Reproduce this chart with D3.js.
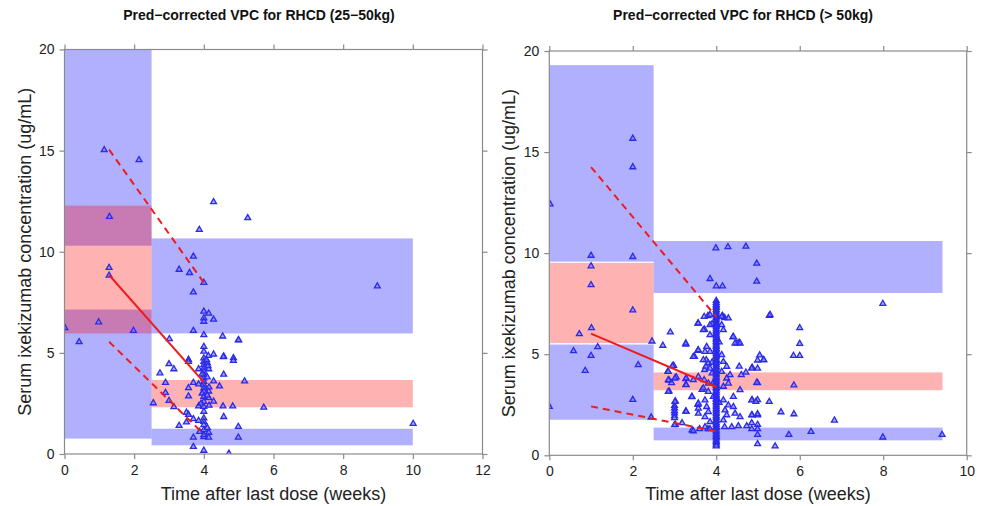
<!DOCTYPE html>
<html>
<head>
<meta charset="utf-8">
<script src="https://cdnjs.cloudflare.com/ajax/libs/d3/7.8.5/d3.min.js"></script>
<style>
body { margin: 0; background: #fff; }
svg text { font-family: "Liberation Sans", Arial, sans-serif; }
</style>
</head>
<body>
<svg id="chart" width="982" height="506"></svg>
<script>
// ---------- left panel: 25-50kg ----------
var titleLeft = "Pred\u2212corrected VPC for RHCD (25\u221250kg)";
var binEdgesLeft = [0, 2.5, 10];
var loCILeft = [[0.76, 7.14], [0.43, 1.25]];    // CI of 5th percentile
var medCILeft = [[5.96, 12.28], [2.31, 3.66]];  // CI of median
var hiCILeft = [[10.3, 20], [5.96, 10.66]];     // CI of 95th percentile
var binMidLeft = [1.28, 4.0];
var obsMedLeft = [8.85, 3.55];
var obsP95Left = [15.05, 8.47];
var obsP5Left = [5.55, 0.98];
var obsLeft = [
  [1.14,15.03],[2.14,14.54],[1.29,11.73],[4.28,12.46],[5.26,11.67],[3.87,11.09],
  [3.70,9.77],[3.29,9.12],[3.59,8.96],[4.0,8.47],[1.28,9.21],[1.28,8.83],[3.70,8.0],[8.98,8.30],
  [0.01,6.24],[0.98,6.52],[1.98,6.10],[0.42,5.54],[3.70,6.10],
  [4.0,7.05],[4.0,6.72],[4.0,6.55],[4.14,6.95],[4.28,6.65],[4.0,5.89],[4.54,5.82],[3.01,5.69],[4.99,5.63],
  [4.0,5.31],[4.0,5.07],[4.13,4.86],[4.28,4.93],[4.57,4.83],[4.85,4.75],[4.85,4.62],[3.56,4.67],[3.56,4.56],
  [3.0,4.45],[3.14,4.2],[2.74,4.0],[2.90,3.53],[4.57,3.93],[4.14,4.2],[3.85,4.2],[5.17,3.6],[4.28,3.6],[4.45,3.35],
  [3.56,3.27],[3.56,2.86],[2.90,3.03],[3.70,3.53],[3.85,3.45],[4.14,3.1],[4.14,2.77],[4.28,2.6],[2.55,2.52],
  [3.0,2.64],[3.14,2.33],[3.85,2.36],[4.55,2.36],[4.83,2.36],[5.72,2.3],[3.50,2.05],[3.56,1.95],[4.57,1.84],
  [3.5,1.57],[3.7,1.73],[3.85,1.65],[3.29,1.40],[4.99,1.35],[4.14,1.06],[4.0,0.85],[3.7,0.82],[4.14,0.82],
  [4.99,0.82],[3.7,0.36],[4.0,0.17],[4.72,0.03],[10.01,1.5],
  [4.0,4.74],[4.0,4.57],[4.0,4.41],[4.0,4.24],[4.0,4.08],[4.0,3.91],[4.0,3.75],[4.0,3.58],[4.0,3.42],
  [4.0,3.25],[4.0,3.09],[4.0,2.84],[4.0,2.59],[4.0,2.34],[4.0,2.10],[4.0,1.77],[4.0,1.60],[4.0,1.44],
  [4.0,1.19],[4.0,0.94],
  [4.1,4.5],[4.12,4.35],[4.1,3.8],[4.15,3.3],[4.1,2.9],[4.08,4.65],[3.95,3.0],[3.95,3.95],[3.92,2.5],
  [4.1,1.3],[4.15,2.4],[3.88,1.1],[5.0,5.64],[4.56,4.8]
];

// ---------- right panel: > 50kg ----------
var titleRight = "Pred\u2212corrected VPC for RHCD (> 50kg)";
var binEdgesRight = [0, 2.5, 9.42];
var loCIRight = [[1.76, 5.48], [0.74, 1.37]];
var medCIRight = [[5.55, 9.52], [3.22, 4.1]];
var hiCIRight = [[9.58, 19.3], [8.03, 10.6]];
var binMidRight = [1.0, 4.0];
var obsMedRight = [6.02, 3.38];
var obsP95Right = [14.26, 6.85];
var obsP5Right = [2.42, 1.19];
var obsRight = [
  [2.0,15.67],[2.0,14.26],[0.02,12.42],[3.99,10.25],[4.28,10.31],[4.71,10.33],
  [1.0,9.88],[2.0,9.82],[1.0,9.36],[4.97,9.49],[1.0,8.43],[4.97,8.6],[3.85,8.73],[4.0,8.37],[4.15,8.37],
  [7.99,7.5],[2.0,7.18],[5.27,6.91],[1.01,6.30],[0.72,6.0],[2.46,5.64],[2.72,5.43],[1.16,5.36],[0.58,5.16],
  [1.0,4.93],[0.86,4.19],[2.13,4.47],[2.0,2.75],[0.0,2.41],[2.44,1.88],[2.9,6.09],[6.0,6.30],[6.0,5.52],
  [5.85,4.93],[6.0,4.93],[5.86,3.47],[5.86,2.04],[5.55,2.14],[6.83,1.73],[6.27,1.17],[5.74,1.02],[7.99,0.89],
  [9.41,1.02],[4.99,0.56],[5.41,0.45],[4.99,1.02],[4.99,1.52],[4.99,1.98],[4.99,2.74],[4.99,3.58],[4.86,2.74],
  [4.86,1.98],[4.85,1.6],[4.99,4.7],[5.13,4.72],[5.04,4.95],[4.86,4.35],[4.71,4.1],[4.55,4.4],[4.55,5.58],
  [4.4,5.85],[4.5,5.55],[4.2,6.8],[4.15,6.9],[3.56,6.52],[3.72,6.22],[3.8,6.9],[3.9,6.5],[3.48,4.88],
  [3.56,5.18],[3.27,5.48],[2.98,4.44],[2.84,4.15],[2.87,3.71],[2.93,3.58],[2.87,3.17],[3.04,3.87],[3.27,3.78],
  [3.27,3.49],[3.02,2.68],[3.02,1.52],[3.18,1.6],[3.27,2.18],[3.41,2.89],[3.42,1.25],[3.56,2.51],[3.6,1.3],
  [3.8,1.3],[3.72,4.23],[3.76,4.72],[3.9,4.06],[3.66,3.25],[5.27,2.65],[5.14,4.72],[5.29,6.95],
  [3.57,6.53],[3.71,6.86],[3.85,6.95],[3.69,6.2],[3.85,6.45],[3.85,5.95],[4.13,6.86],[4.13,6.45],[4.29,6.78],
  [4.17,6.2],[4.41,5.87],[4.45,5.54],[4.57,5.54],[3.57,5.21],[3.45,4.88],[3.27,5.54],[3.77,5.37],[3.73,5.13],
  [3.85,5.13],[3.69,4.72],[3.81,4.55],[3.75,4.4],[3.85,4.3],[3.9,4.6],
  [4.13,4.97],[4.17,4.63],[4.25,4.39],[4.13,4.14],[4.33,3.98],[3.57,3.89],[3.45,3.73],[3.71,3.73],[3.81,3.56],
  [3.69,3.32],[3.81,3.15],[4.25,3.81],[4.29,3.56],[4.17,3.40],[4.57,3.23],[3.42,2.9],[3.57,2.57],[3.57,2.32],
  [3.57,2.07],[3.73,2.73],[3.77,2.4],[3.81,2.15],[3.73,1.9],[3.85,1.65],[4.17,2.73],[4.29,2.48],[4.21,2.23],
  [4.25,1.99],[4.17,1.74],[4.41,2.9],[4.41,2.4],[4.45,2.07],[4.57,1.9],[3.73,1.4],[3.85,1.3],[3.45,1.2],
  [4.2,1.4],[4.37,1.4],[4.53,1.45],[4.73,1.45],[4.85,4.3],[4.99,4.3],[4.97,3.6],[4.85,2.73],[4.95,2.65],
  [4.85,2.0],[4.99,2.05],[4.85,1.3],[4.99,1.3],[4.6,3.98],[3.93,3.6],[3.93,2.9],[4.07,2.6],[4.07,5.6],
  [3.0,2.45],[3.0,2.33],[3.0,2.2],[3.0,2.08],[3.0,1.95],[3.0,1.85],[3.01,2.65],[2.85,3.15],[2.85,3.73],
  [3.01,3.81],[3.28,3.81],[3.28,3.48],[2.85,4.14],[2.95,4.42],[3.28,2.16],[3.0,1.5],
  [4.0,7.65],[4.0,7.55],[4.0,7.45],[4.0,7.38],[4.0,7.3],[4.0,7.2],[4.0,7.12],[4.0,7.02],[4.0,6.95],
  [4.0,6.85],[4.0,6.78],[4.0,6.7],[4.0,6.6],[4.0,6.52],[4.0,6.42],[4.0,6.35],[4.0,6.25],[4.0,6.15],
  [4.0,6.08],[4.0,5.98],[4.0,5.9],[4.0,5.8],[4.0,5.72],[4.0,5.62],[4.0,5.55],[4.0,5.45],[4.0,5.38],
  [4.0,5.28],[4.0,5.2],[4.0,5.1],[4.0,5.02],[4.0,4.92],[4.0,4.85],[4.0,4.75],[4.0,4.68],[4.0,4.58],
  [4.0,4.5],[4.0,4.4],[4.0,4.32],[4.0,4.22],[4.0,4.15],[4.0,4.05],[4.0,3.98],[4.0,3.88],[4.0,3.8],
  [4.0,3.7],[4.0,3.62],[4.0,3.52],[4.0,3.45],[4.0,3.35],[4.0,3.28],[4.0,3.18],[4.0,3.1],[4.0,3.0],
  [4.0,2.92],[4.0,2.82],[4.0,2.75],[4.0,2.65],[4.0,2.58],[4.0,2.48],[4.0,2.4],[4.0,2.3],[4.0,2.22],
  [4.0,2.12],[4.0,2.05],[4.0,1.95],[4.0,1.88],[4.0,1.78],[4.0,1.7],[4.0,1.6],[4.0,1.52],[4.0,1.42],
  [4.0,1.35],[4.0,1.25],[4.0,1.18],[4.0,1.08],[4.0,1.0],[4.0,0.92],[4.0,0.85],[4.0,0.75],[4.0,0.68],
  [4.0,0.6],[4.0,0.52],[4.0,0.45]
];

var yTicks = [0, 5, 10, 15, 20];
var xTicksLeft = [0, 2, 4, 6, 8, 10, 12];
var xTicksRight = [0, 2, 4, 6, 8, 10];

var svg = d3.select("#chart");

function drawPanel(p) {
  var x = d3.scaleLinear().domain(p.xDomain).range([p.left, p.right]);
  var y = d3.scaleLinear().domain([0, 20]).range([p.bottom, p.top]);
  var g = svg.append("g");

  var clipId = "clip" + p.id;
  svg.append("clipPath").attr("id", clipId)
    .append("rect").attr("x", p.left).attr("y", p.top)
    .attr("width", p.right - p.left).attr("height", p.bottom - p.top);

  var plot = g.append("g").attr("clip-path", "url(#" + clipId + ")");

  // blue bands first (5th and 95th percentile CI), then pink median CI
  function bands(ci, color, op) {
    plot.selectAll(null).data(ci).enter().append("rect")
      .attr("x", function(d, i) { return x(p.edges[i]); })
      .attr("width", function(d, i) { return x(p.edges[i + 1]) - x(p.edges[i]); })
      .attr("y", function(d) { return y(d[1]); })
      .attr("height", function(d) { return y(d[0]) - y(d[1]); })
      .attr("fill", color).attr("fill-opacity", op);
  }
  bands(p.hi, "#0000ff", 0.31);
  bands(p.lo, "#0000ff", 0.31);
  bands(p.med, "#ff0000", 0.30);

  // observations
  var tri = d3.symbol().type(d3.symbolTriangle).size(15);
  plot.selectAll(null).data(p.obs).enter().append("path")
    .attr("d", tri)
    .attr("transform", function(d) { return "translate(" + x(d[0]) + "," + y(d[1]) + ")"; })
    .attr("fill", "#7c7cff").attr("fill-opacity", 0.65)
    .attr("stroke", "#2a2ae8").attr("stroke-width", 1.3);

  // observed percentiles
  function obsLine(vals, dash) {
    var line = d3.line().x(function(d, i) { return x(p.mid[i]); }).y(function(d) { return y(d); });
    plot.append("path").datum(vals)
      .attr("d", line)
      .attr("fill", "none").attr("stroke", "#ee1c1c").attr("stroke-width", 2)
      .attr("stroke-dasharray", dash ? "7,5" : null);
  }
  obsLine(p.p50, false);
  obsLine(p.p95, true);
  obsLine(p.p5, true);

  // axes on all four sides, labels only bottom/left
  var ax = g.append("g").attr("class", "axes");
  ax.append("g").attr("transform", "translate(0," + p.bottom + ")")
    .call(d3.axisBottom(x).tickValues(p.xTicks).tickSize(5).tickPadding(6).tickSizeOuter(0));
  ax.append("g").attr("transform", "translate(0," + p.top + ")")
    .call(d3.axisTop(x).tickValues(p.xTicks).tickSize(5).tickFormat("").tickSizeOuter(0));
  ax.append("g").attr("transform", "translate(" + p.left + ",0)")
    .call(d3.axisLeft(y).tickValues(yTicks).tickSize(5).tickPadding(5).tickSizeOuter(0));
  ax.append("g").attr("transform", "translate(" + p.right + ",0)")
    .call(d3.axisRight(y).tickValues(yTicks).tickSize(5).tickFormat("").tickSizeOuter(0));
  ax.selectAll(".domain").remove();
  ax.selectAll("line").attr("stroke", "#8a8a8a").attr("stroke-width", 1.2);
  ax.selectAll("text").attr("font-size", 14).attr("fill", "#222")
    .attr("font-family", "Liberation Sans, Arial, sans-serif");

  g.append("rect")
    .attr("x", p.left).attr("y", p.top)
    .attr("width", p.right - p.left).attr("height", p.bottom - p.top)
    .attr("fill", "none").attr("stroke", "#8a8a8a").attr("stroke-width", 1.2);

  // titles
  g.append("text").attr("x", p.titleX).attr("y", 20)
    .attr("text-anchor", "middle").attr("font-size", 14).attr("font-weight", "bold")
    .attr("fill", "#111").text(p.title);
  g.append("text").attr("x", (p.left + p.right) / 2).attr("y", 500)
    .attr("text-anchor", "middle").attr("font-size", 18).attr("fill", "#222")
    .text("Time after last dose (weeks)");
  g.append("text")
    .attr("transform", "translate(" + p.yLabX + "," + ((p.top + p.bottom) / 2) + ") rotate(-90)")
    .attr("text-anchor", "middle").attr("font-size", 18).attr("fill", "#222")
    .text("Serum ixekizumab concentration (ug/mL)");
}

drawPanel({
  id: "L", title: titleLeft, titleX: 259, yLabX: 31,
  xDomain: [0, 12], left: 64.5, right: 482.5, top: 49.5, bottom: 454,
  xTicks: xTicksLeft, edges: binEdgesLeft,
  lo: loCILeft, med: medCILeft, hi: hiCILeft,
  mid: binMidLeft, p50: obsMedLeft, p95: obsP95Left, p5: obsP5Left, obs: obsLeft
});

drawPanel({
  id: "R", title: titleRight, titleX: 743, yLabX: 515,
  xDomain: [0, 10], left: 549.3, right: 966.7, top: 51, bottom: 455.3,
  xTicks: xTicksRight, edges: binEdgesRight,
  lo: loCIRight, med: medCIRight, hi: hiCIRight,
  mid: binMidRight, p50: obsMedRight, p95: obsP95Right, p5: obsP5Right, obs: obsRight
});
</script>
</body>
</html>
